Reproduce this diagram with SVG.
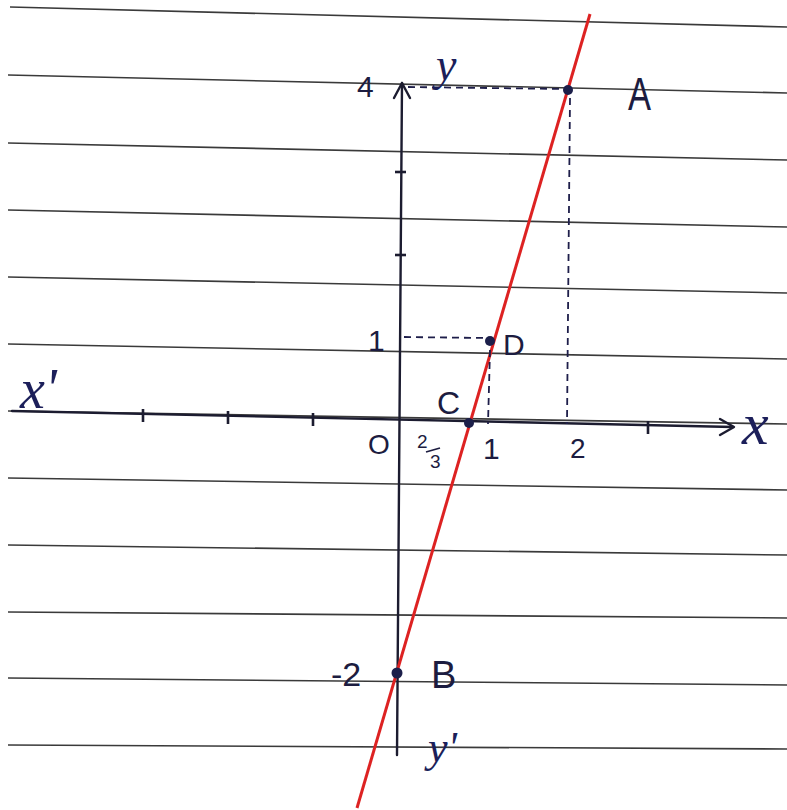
<svg xmlns="http://www.w3.org/2000/svg" width="787" height="810" viewBox="0 0 787 810">
<style>
.paper{stroke:#3a3a3a;stroke-width:1.6;fill:none}
.axis{stroke:#1c1c30;stroke-width:2.4;fill:none;stroke-linecap:round;stroke-linejoin:round}
.tick{stroke:#1c1c30;stroke-width:2.6}
.dash{stroke:#1e1e4a;stroke-width:1.8;stroke-dasharray:7 5;fill:none}
.red{stroke:#dd2222;stroke-width:3;fill:none}
.pt{fill:#1c1f4a}
.lbl{font-family:"Liberation Sans","DejaVu Sans",sans-serif;fill:#1c1c40}
.scr{font-family:"Liberation Serif","DejaVu Serif",serif;font-style:italic;fill:#1c1f5a}
</style>
<rect width="787" height="810" fill="#ffffff"/>
<g id="paper-lines">
<line class="paper" x1="10" y1="7" x2="787" y2="27"/>
<line class="paper" x1="8" y1="75" x2="787" y2="93"/>
<line class="paper" x1="8" y1="143" x2="787" y2="160"/>
<line class="paper" x1="8" y1="210" x2="787" y2="227"/>
<line class="paper" x1="8" y1="277" x2="787" y2="293"/>
<line class="paper" x1="8" y1="344" x2="787" y2="359"/>
<line class="paper" x1="8" y1="411" x2="787" y2="424"/>
<line class="paper" x1="8" y1="478" x2="787" y2="490"/>
<line class="paper" x1="8" y1="545" x2="787" y2="555"/>
<line class="paper" x1="8" y1="612" x2="787" y2="618"/>
<line class="paper" x1="8" y1="678" x2="787" y2="685"/>
<line class="paper" x1="8" y1="745" x2="787" y2="749"/>
</g>
<g id="axes">
<line class="axis" x1="12" y1="411" x2="733" y2="427"/>
<polyline class="axis" points="720,419 734,427 720,435"/>
<line class="axis" x1="402" y1="83" x2="397" y2="755"/>
<polyline class="axis" points="394,98 402,83 410,98"/>
<line class="tick" x1="143" y1="409" x2="143" y2="422"/>
<line class="tick" x1="228" y1="411" x2="228" y2="424"/>
<line class="tick" x1="313" y1="413" x2="313" y2="426"/>
<line class="tick" x1="648" y1="421" x2="648" y2="434"/>
<line class="tick" x1="395" y1="172" x2="406" y2="172"/>
<line class="tick" x1="395" y1="255" x2="406" y2="255"/>
</g>
<g id="connectors">
<line class="red" x1="590" y1="14" x2="357" y2="808"/>
<line class="dash" x1="408" y1="87" x2="565" y2="89"/>
<line class="dash" x1="570" y1="98" x2="567" y2="424"/>
<line class="dash" x1="404" y1="337" x2="486" y2="338"/>
<line class="dash" x1="490" y1="350" x2="488" y2="424"/>
</g>
<g id="node-A"><circle class="pt" cx="568" cy="90" r="5"/><text class="lbl" x="628" y="110" font-size="46" transform="translate(628 0) scale(0.75 1) translate(-628 0)">A</text></g>
<g id="node-D"><circle class="pt" cx="490" cy="341" r="5"/><text class="lbl" x="503" y="355" font-size="30">D</text></g>
<g id="node-C"><circle class="pt" cx="469" cy="423" r="5"/><text class="lbl" x="437" y="414" font-size="32">C</text></g>
<g id="node-B"><circle class="pt" cx="397" cy="673" r="5.5"/><text class="lbl" x="431" y="688" font-size="38">B</text></g>
<g id="labels">
<text class="lbl" x="357" y="97" font-size="30">4</text>
<text class="scr" x="436" y="80" font-size="46">y</text>
<text class="lbl" x="368" y="351" font-size="30">1</text>
<text class="lbl" x="368" y="454" font-size="28">O</text>
<text class="lbl" x="417" y="448" font-size="19">2</text>
<line stroke="#1c1c40" stroke-width="1.8" x1="426" y1="452" x2="440" y2="448"/>
<text class="lbl" x="430" y="468" font-size="19">3</text>
<text class="lbl" x="483" y="459" font-size="30">1</text>
<text class="lbl" x="570" y="458" font-size="28">2</text>
<text class="scr" x="742" y="444" font-size="60">x</text>
<text class="scr" x="20" y="408" font-size="56">x'</text>
<text class="lbl" x="331" y="686" font-size="34">-2</text>
<text class="scr" x="428" y="762" font-size="44">y'</text>
</g>
</svg>
